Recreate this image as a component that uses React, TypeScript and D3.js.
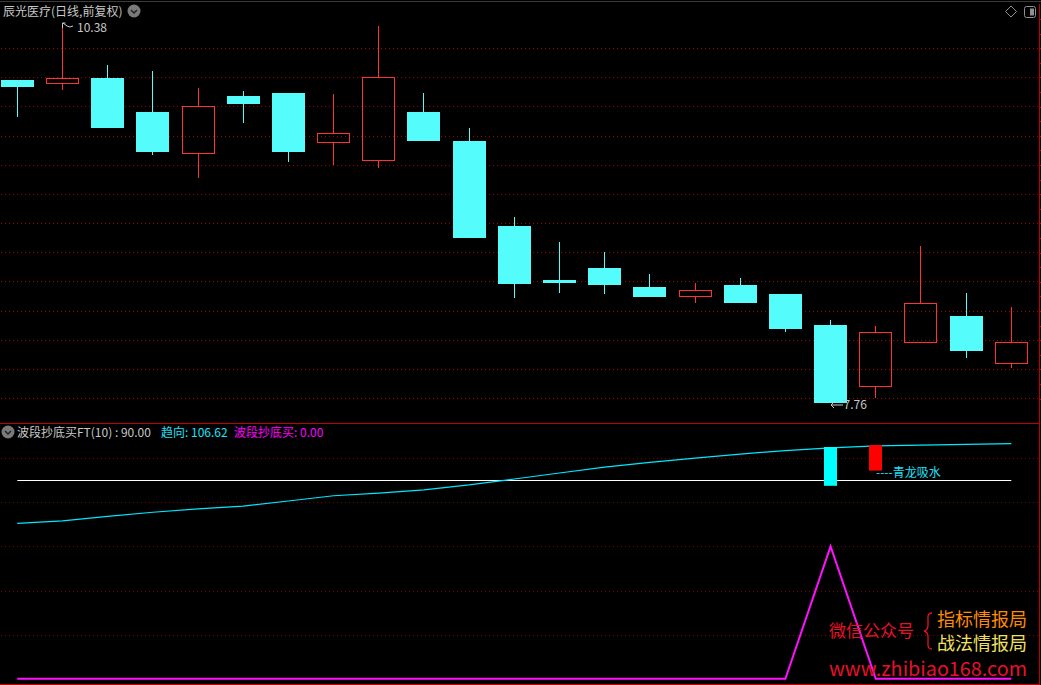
import * as d3 from "d3";
import { useEffect } from "react";

// daily candles, oldest first
const days = d3.range(23).map((i) => `D${i + 1}`);
const opens = [9.99, 9.96, 10.0, 9.77, 9.48, 9.88, 9.9, 9.55, 9.43, 9.77, 9.57, 8.98, 8.61, 8.69, 8.56, 8.49, 8.57, 8.51, 8.3, 7.87, 8.17, 8.36, 8.03];
const highs = [9.99, 10.38, 10.09, 10.05, 9.93, 9.91, 9.9, 9.89, 10.36, 9.9, 9.66, 9.04, 8.87, 8.8, 8.65, 8.59, 8.62, 8.51, 8.33, 8.29, 8.84, 8.52, 8.42];
const lows = [9.73, 9.92, 9.66, 9.47, 9.31, 9.69, 9.42, 9.4, 9.38, 9.57, 8.9, 8.48, 8.52, 8.51, 8.49, 8.45, 8.45, 8.25, 7.76, 7.79, 8.17, 8.07, 8.0];
const closes = [9.94, 10.0, 9.66, 9.49, 9.81, 9.82, 9.49, 9.62, 10.01, 9.57, 8.9, 8.58, 8.59, 8.57, 8.49, 8.54, 8.45, 8.27, 7.76, 8.25, 8.45, 8.12, 8.18];

// indicator panel
const ftLevel = 90;
const trend = [70.5, 71.6, 73.6, 75.5, 77.0, 78.3, 80.6, 83.0, 84.2, 85.7, 87.9, 90.6, 93.3, 96.0, 98.1, 100.1, 101.9, 103.5, 104.7, 105.6, 106.0, 106.3, 106.62];
const bottomBuy = [0, 0, 0, 0, 0, 0, 0, 0, 0, 0, 0, 0, 0, 0, 0, 0, 0, 0, 60, 0, 0, 0, 0];
const signalBars = [
  { day: "D19", from: 87.5, to: 105.1, color: "#00ffff" },
  { day: "D20", from: 94.4, to: 106.0, color: "#ff0000" },
];
const indGrid = [20, 40, 60, 80, 100];

const W = 1041;
const H = 685;
const CYAN = "#54fcfc";
const RED = "#ff3232";
const FONT = "'Noto Sans CJK SC', 'Noto Sans', sans-serif";

const x = d3.scalePoint<string>().domain(days).range([17.3, 1011.3]);
const yPrice = d3.scaleLinear().domain([7.76, 10.38]).range([402.7, 23.3]);
const yInd = d3.scaleLinear().domain([0, 90]).range([678.7, 480.3]);

function Chevron({ cx, cy }: { cx: number; cy: number }) {
  return (
    <g transform={`translate(${cx},${cy})`}>
      <circle r={6.5} fill="#7a7a7a" />
      <path d="M-3,-1 L0,2 L3,-1" fill="none" stroke="#222" strokeWidth={1.5} />
    </g>
  );
}

export default function App() {
  useEffect(() => {
    document.body.style.margin = "0";
    document.body.style.background = "#000";
  }, []);

  const px = (v: number) => Math.round(v);
  const hi = d3.maxIndex(highs);
  const lo = d3.minIndex(lows);

  const trendLine = d3
    .line<number>()
    .x((_, i) => x(days[i])!)
    .y((d) => yInd(d));

  const priceGridY = d3.range(13).map((i) => Math.round(48 + i * 29.17) + 0.5);
  const edgeTicks = d3.range(27).map((i) => Math.round(19 + i * 14.6) + 0.5);

  return (
    <svg
      width={W}
      height={H}
      style={{ position: "fixed", left: 0, top: 0, background: "#000", display: "block" }}
    >
      <rect width={W} height={H} fill="#000" />
      <line x1={0} x2={W} y1={1.5} y2={1.5} stroke="#3a3a3a" />

      {/* price grid */}
      <g>
        {priceGridY.map((y) => (
          <line key={y} x1={1} x2={1039} y1={y} y2={y} stroke="#a00000" strokeDasharray="1 3" />
        ))}
        {indGrid.map((v) => (
          <line
            key={v}
            x1={1}
            x2={1039}
            y1={Math.round(yInd(v)) + 0.5}
            y2={Math.round(yInd(v)) + 0.5}
            stroke="#800000"
            strokeDasharray="1 3"
          />
        ))}
      </g>

      {/* borders */}
      <line x1={1039.5} x2={1039.5} y1={4} y2={H} stroke="#c00000" />
      {edgeTicks.map((y) => (
        <line key={y} x1={1039} x2={1041} y1={y} y2={y} stroke="#c00000" />
      ))}
      <line x1={0} x2={1040} y1={423.5} y2={423.5} stroke="#c00000" />
      <line x1={0} x2={1040} y1={684.5} y2={684.5} stroke="#c00000" />

      {/* candles */}
      {days.map((d, i) => {
        const cx = Math.floor(x(d)!);
        const up = closes[i] >= opens[i];
        const top = px(yPrice(Math.max(opens[i], closes[i])));
        const bot = px(yPrice(Math.min(opens[i], closes[i])));
        const yh = px(yPrice(highs[i]));
        const yl = px(yPrice(lows[i]));
        const col = up ? RED : CYAN;
        return (
          <g key={d}>
            {yh < top && <line x1={cx + 0.5} x2={cx + 0.5} y1={yh} y2={top} stroke={col} />}
            {yl > bot && <line x1={cx + 0.5} x2={cx + 0.5} y1={bot} y2={yl} stroke={col} />}
            {up ? (
              <rect x={cx - 15.5} y={top + 0.5} width={32} height={Math.max(bot - top - 1, 1)} fill="none" stroke={col} />
            ) : (
              <rect x={cx - 16} y={top} width={33} height={Math.max(bot - top, 2)} fill={col} />
            )}
          </g>
        );
      })}

      {/* high / low markers */}
      <g stroke="#c8c8c8" fill="none" strokeWidth={1}>
        <path d={`M${Math.floor(x(days[hi])!) + 0.5},${px(yPrice(highs[hi])) + 5} v-5 h3 M${Math.floor(x(days[hi])!) + 1},${px(yPrice(highs[hi]))} l4,3 q3,2 6,0`} />
        <path d={`M${Math.floor(x(days[lo])!) + 13},${px(yPrice(lows[lo])) + 2} h-12 l3,-3 M${Math.floor(x(days[lo])!) + 1},${px(yPrice(lows[lo])) + 2} l3,3`} />
      </g>
      <text x={77} y={yPrice(highs[hi]) + 9} fill="#c8c8c8" fontSize={12} fontFamily={FONT}>
        {highs[hi].toFixed(2)}
      </text>
      <text x={x(days[lo])! + 13} y={yPrice(lows[lo]) + 6} fill="#c8c8c8" fontSize={12} fontFamily={FONT}>
        {lows[lo].toFixed(2)}
      </text>

      {/* title row */}
      <text x={3} y={16} fill="#c8c8c8" fontSize={12} fontFamily={FONT}>
        辰光医疗(日线,前复权)
      </text>
      <Chevron cx={134} cy={11} />
      <path d="M1011,6 L1016.5,11.5 L1011,17 L1005.5,11.5 Z" fill="none" stroke="#909090" />
      <rect x={1024.5} y={6.5} width={11} height={11} rx={2} fill="none" stroke="#909090" />
      <rect x={1030} y={8.5} width={4} height={7} fill="#909090" />

      {/* indicator panel */}
      <Chevron cx={8} cy={432} />
      <text y={437} fontSize={12} fontFamily={FONT}>
        <tspan x={17} fill="#c8c8c8">{`波段抄底买FT(10) : ${ftLevel.toFixed(2)}`}</tspan>
        <tspan x={161} fill="#1ee0f8">{`趋向: ${trend[trend.length - 1].toFixed(2)}`}</tspan>
        <tspan x={234} fill="#ff00ff">{`波段抄底买: ${bottomBuy[bottomBuy.length - 1].toFixed(2)}`}</tspan>
      </text>

      <line
        x1={x(days[0])!}
        x2={x(days[days.length - 1])!}
        y1={Math.round(yInd(ftLevel)) + 0.5}
        y2={Math.round(yInd(ftLevel)) + 0.5}
        stroke="#ffffff"
        strokeWidth={1.2}
      />
      <path d={trendLine(trend)!} fill="none" stroke="#00e8ff" strokeWidth={1.2} />

      {signalBars.map((b) => (
        <rect
          key={b.day}
          x={Math.floor(x(b.day)!) - 6}
          y={yInd(b.to)}
          width={13}
          height={yInd(b.from) - yInd(b.to)}
          fill={b.color}
        />
      ))}
      <text x={876} y={477} fill="#1ee0f8" fontSize={12} fontFamily={FONT}>
        ----青龙吸水
      </text>

      <path d={trendLine(bottomBuy)!} fill="none" stroke="#ff10ff" strokeWidth={2} />

      {/* watermark */}
      <g fontFamily={FONT}>
        <text x={829} y={637} fill="#e8102a" fontSize={17}>微信公众号</text>
        <path
          d="M932,613 q-4,0 -4,4 v8 q0,5 -4,6 q4,1 4,6 v8 q0,4 4,4"
          fill="none"
          stroke="#e8102a"
          strokeWidth={1.3}
        />
        <text x={937} y={626} fill="#ff8c00" fontSize={18}>指标情报局</text>
        <text x={937} y={650} fill="#f0e060" fontSize={18}>战法情报局</text>
        <text x={829} y={676} fill="#e8102a" fontSize={19} textLength={198} lengthAdjust="spacingAndGlyphs">
          www.zhibiao168.com
        </text>
      </g>
    </svg>
  );
}
